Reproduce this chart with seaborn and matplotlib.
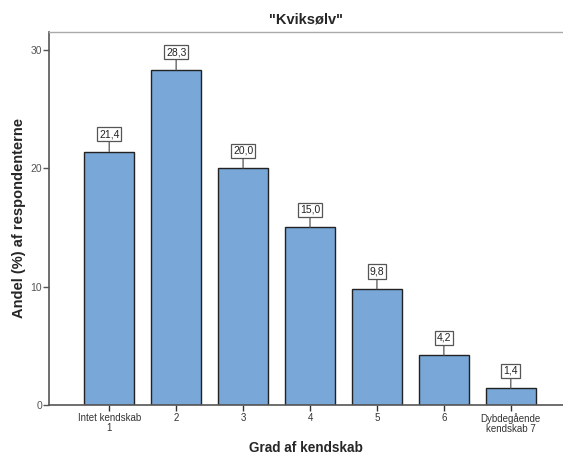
import matplotlib
matplotlib.use("Agg")
import matplotlib.pyplot as plt
import seaborn as sns
import pandas as pd

categories = ["Intet kendskab\n1", "2", "3", "4", "5", "6", "Dybdegående\nkendskab 7"]
values = [21.4, 28.3, 20.0, 15.0, 9.8, 4.2, 1.4]
value_labels = ["21,4", "28,3", "20,0", "15,0", "9,8", "4,2", "1,4"]
yticks = [0, 10, 20, 30]

sns.set_style("white")
plt.rcParams['font.family'] = ['Liberation Sans', 'DejaVu Sans']

df = pd.DataFrame({"cat": categories, "val": values})

fig = plt.figure(figsize=(5.63, 4.55), dpi=100)
ax = fig.add_axes([0.087, 0.11, 0.913, 0.8197])
sns.barplot(data=df, x="cat", y="val", color="#79a7d7", width=0.75,
            edgecolor="#222222", linewidth=1.0, saturation=1, ax=ax)

ax.set_ylim(0, 31.5)
ax.set_xlim(-0.9, 6.78)
ax.set_yticks(yticks)
ax.set_yticklabels([str(t) for t in yticks], fontsize=7.5, color="#333333")
ax.tick_params(axis="x", labelsize=7, colors="#333333", length=4, width=1, pad=2, direction="out", bottom=True)
ax.tick_params(axis="y", length=4, width=1, pad=1, direction="out", left=True, colors="#555555")
for lab in ax.get_xticklabels():
    lab.set_color("#333333")
    lab.set_linespacing(0.95)
for s in ["left", "bottom"]:
    ax.spines[s].set_color("#555555")
    ax.spines[s].set_linewidth(1.2)
ax.spines["top"].set_color("#aaaaaa")
ax.spines["top"].set_linewidth(1.0)
ax.spines["right"].set_visible(False)

ax.set_xlabel("Grad af kendskab", fontsize=9.8, fontweight="bold", labelpad=5)
ax.set_ylabel("Andel (%) af respondenterne", fontsize=10.5, fontweight="bold", labelpad=3)
ax.set_title("\"Kviksølv\"", fontsize=10.5, fontweight="bold", pad=6)

for i, (v, lab) in enumerate(zip(values, value_labels)):
    ax.annotate(lab, xy=(i, v), xytext=(0, 9), textcoords="offset points",
                ha="center", va="bottom", fontsize=7.5, color="#222222",
                bbox=dict(boxstyle="square,pad=0.2", fc="white", ec="#555555", lw=0.9),
                arrowprops=dict(arrowstyle="-", color="#555555", lw=0.9, shrinkA=0, shrinkB=0))

fig.savefig("out.png", dpi=100)
